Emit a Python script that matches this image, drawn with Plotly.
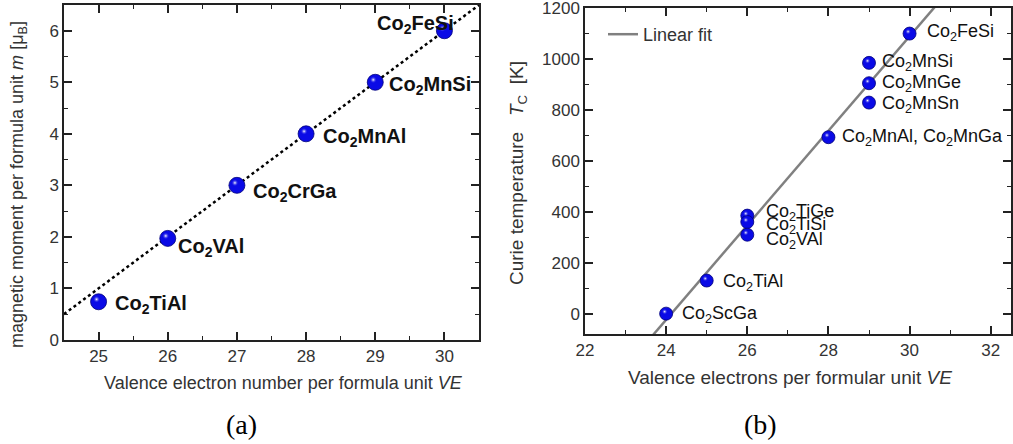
import numpy as np
import plotly.graph_objects as go

# ---- (a) Slater-Pauling behaviour: magnetic moment vs valence electrons ----
ve_a = [25, 26, 27, 28, 29, 30]
m_a = [0.74, 1.97, 3.0, 4.0, 5.0, 6.0]
names_a = ["Co<sub>2</sub>TiAl", "Co<sub>2</sub>VAl", "Co<sub>2</sub>CrGa",
           "Co<sub>2</sub>MnAl", "Co<sub>2</sub>MnSi", "Co<sub>2</sub>FeSi"]

# ---- (b) Curie temperature vs valence electrons ----
ve_b = [24, 25, 26, 26, 26, 28, 29, 29, 29, 30]
tc_b = [0, 130, 385, 360, 310, 693, 985, 905, 829, 1100]
names_b = ["Co<sub>2</sub>ScGa", "Co<sub>2</sub>TiAl", "Co<sub>2</sub>TiGe",
           "Co<sub>2</sub>TiSi", "Co<sub>2</sub>VAl",
           "Co<sub>2</sub>MnAl, Co<sub>2</sub>MnGa", "Co<sub>2</sub>MnSi",
           "Co<sub>2</sub>MnGe", "Co<sub>2</sub>MnSn", "Co<sub>2</sub>FeSi"]

W, H = 1013, 444
XR_A, YR_A = [24.5, 30.5], [-0.002, 6.5]
XR_B, YR_B = [22, 32.5], [-80, 1200.5]
# plot-area boxes in pixels (left, right, top, bottom)
BOX_A = (64, 479, 5, 340)
BOX_B = (585, 1011, 8, 334)


def dom(box):
    l, r, t, b = box
    return [l / W, r / W], [(H - b) / H, (H - t) / H]


dxa, dya = dom(BOX_A)
dxb, dyb = dom(BOX_B)

FONT = "Liberation Sans, Arial, sans-serif"
BLUE = "#0a0ae6"
EDGE = "#00007a"
AXC = "#222222"
TXT = "#333333"


def highlight_offset(xr, yr, box, px=-2.0, py=2.5):
    l, r, t, b = box
    return ((xr[1] - xr[0]) / (r - l) * px, (yr[1] - yr[0]) / (b - t) * py)


fig = go.Figure()

# Slater-Pauling rule m = VE - 24
sp_x = np.array([24.5, 30.5])
fig.add_trace(go.Scatter(x=sp_x, y=sp_x - 24, mode="lines",
                         line=dict(color="black", width=2.5, dash="dot"),
                         showlegend=False, xaxis="x", yaxis="y"))

# linear fit of Tc vs VE
slope, icpt = np.polyfit(ve_b, tc_b, 1)
fit_x = np.array(XR_B)
fig.add_trace(go.Scatter(x=fit_x, y=slope * fit_x + icpt, mode="lines",
                         line=dict(color="#808080", width=2.5),
                         name="Linear fit", showlegend=True,
                         xaxis="x2", yaxis="y2"))


def spheres(x, y, size, xa, ya, off):
    fig.add_trace(go.Scatter(x=x, y=y, mode="markers", showlegend=False,
                             marker=dict(size=size, color=BLUE,
                                         line=dict(color=EDGE, width=0.8)),
                             xaxis=xa, yaxis=ya))
    hx = [v + off[0] for v in x]
    hy = [v + off[1] for v in y]
    fig.add_trace(go.Scatter(x=hx, y=hy, mode="markers", showlegend=False,
                             marker=dict(size=size * 0.45, color="rgba(10,10,230,0)",
                                         gradient=dict(type="radial", color="white"),
                                         line=dict(width=0)),
                             xaxis=xa, yaxis=ya))


spheres(ve_a, m_a, 16, "x", "y", highlight_offset(XR_A, YR_A, BOX_A))
spheres(ve_b, tc_b, 13, "x2", "y2", highlight_offset(XR_B, YR_B, BOX_B, -1.5, 2))

# compound labels for (a): (xshift, yshift, anchor)
lab_a = [(14, -3, "left"), (8, -9, "left"), (14, -7, "left"),
         (15, -4, "left"), (12, -3, "left"), (12, 6, "right")]
ann = []
for x, y, t, (sx, sy, anc) in zip(ve_a, m_a, names_a, lab_a):
    ann.append(dict(x=x, y=y, xref="x", yref="y", text=t, showarrow=False,
                    xanchor=anc, yanchor="middle", xshift=sx, yshift=sy,
                    font=dict(family=FONT, size=20, color="#111111", weight="bold")))

lab_b = [(14, -1, "left"), (14, -2, "left"), (17, 3, "left"), (17, -4, "left"),
         (17, -6, "left"), (12, 0, "left"), (11, 0, "left"), (11, 0, "left"),
         (11, -2, "left"), (15, 1, "left")]
for x, y, t, (sx, sy, anc) in zip(ve_b, tc_b, names_b, lab_b):
    ann.append(dict(x=x, y=y, xref="x2", yref="y2", text=t, showarrow=False,
                    xanchor=anc, yanchor="middle", xshift=sx, yshift=sy,
                    font=dict(family=FONT, size=18, color="#111111")))

# axis titles and panel captions
ann += [
    dict(x=(BOX_A[0] + BOX_A[1]) / 2 / W + 0.012, y=(H - 383) / H, xref="paper", yref="paper",
         text="Valence electron number per formula unit <i>VE</i>", showarrow=False,
         xanchor="center", yanchor="middle", font=dict(family=FONT, size=18, color=TXT)),
    dict(x=19 / W, y=(H - 185) / H, xref="paper", yref="paper",
         text="magnetic moment per formula unit <i>m</i> [μ<sub>B</sub>]", showarrow=False,
         textangle=-90, xanchor="center", yanchor="middle",
         font=dict(family=FONT, size=18, color=TXT)),
    dict(x=(BOX_B[0] + BOX_B[1]) / 2 / W - 0.008, y=(H - 377) / H, xref="paper", yref="paper",
         text="Valence electrons per formular unit <i>VE</i>", showarrow=False,
         xanchor="center", yanchor="middle", font=dict(family=FONT, size=19, color=TXT)),
    dict(x=518 / W, y=(H - 173) / H, xref="paper", yref="paper",
         text="Curie temperature\u00a0\u00a0\u00a0<i>T</i><sub>C</sub>\u00a0\u00a0[K]",
         showarrow=False, textangle=-90, xanchor="center", yanchor="middle",
         font=dict(family=FONT, size=19, color=TXT)),
    dict(x=241 / W, y=(H - 424) / H, xref="paper", yref="paper", text="(a)",
         showarrow=False, xanchor="center", yanchor="middle",
         font=dict(family="Liberation Serif, Times New Roman, serif", size=28, color="black")),
    dict(x=760 / W, y=(H - 424) / H, xref="paper", yref="paper", text="(b)",
         showarrow=False, xanchor="center", yanchor="middle",
         font=dict(family="Liberation Serif, Times New Roman, serif", size=28, color="black")),
]


def axis(rng, domain, anchor, dtick, minor, fsize, **kw):
    return dict(range=rng, domain=domain, anchor=anchor, dtick=dtick,
                automargin=False, ticklabeloverflow="allow",
                showgrid=False, zeroline=False, showline=True, linecolor=AXC,
                linewidth=1.5, mirror="allticks", ticks="inside", ticklen=8,
                tickwidth=1.5, tickcolor=AXC,
                minor=dict(dtick=minor, ticks="inside", ticklen=4, tickwidth=1.2,
                           tickcolor=AXC, showgrid=False),
                tickfont=dict(family=FONT, size=fsize, color=TXT), **kw)


fig.update_layout(
    template="none",
    width=W, height=H, margin=dict(l=0, r=0, t=0, b=0),
    paper_bgcolor="white", plot_bgcolor="white",
    xaxis=axis(XR_A, dxa, "y", 1, 0.5, 17, tick0=25),
    yaxis=axis(YR_A, dya, "x", 1, 0.5, 17, tick0=0),
    xaxis2=axis(XR_B, dxb, "y2", 2, 1, 17, tick0=22),
    yaxis2=axis(YR_B, dyb, "x2", 200, 100, 17, tick0=0),
    legend=dict(x=603 / W, y=(H - 16) / H, xanchor="left", yanchor="top",
                bgcolor="rgba(0,0,0,0)", font=dict(family=FONT, size=18, color=TXT)),
    annotations=ann,
)

fig.write_html("out.html")
